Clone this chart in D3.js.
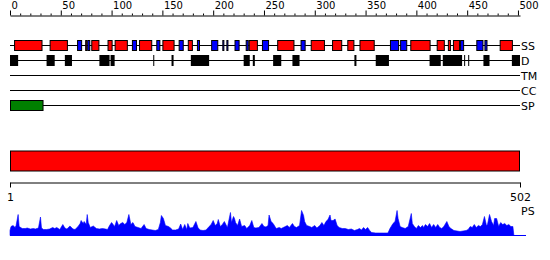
<!DOCTYPE html>
<html>
<head>
<meta charset="utf-8">
<script src="https://cdn.jsdelivr.net/npm/d3@7"></script>
<style>
body { margin: 0; background: #fff; }
text { font-family: "DejaVu Sans", sans-serif; fill: #000; }
</style>
</head>
<body>
<svg id="chart" width="550" height="260"></svg>
<script>
// sequence features (residue numbers)
var seqLength = 502;
var topTickLabels = [0, 50, 100, 150, 200, 250, 300, 350, 400, 450, 500];
var trackLabels = ["SS", "D", "TM", "CC", "SP"];

var helices = [[4,32],[39,57],[74,76],[80,88],[96,101],[103,116],[127,140],[150,162],[175,180],[235,244],
    [263,280],[296,310],[317,327],[332,339],[344,359],[394,414],[420,428],[431,434],[436,443],[482,495]];
var strands = [[66,71],[76,79],[120,125],[144,148],[166,171],[184,187],[198,205],[209,211],[213,215],[221,226],
    [232,235],[248,255],[286,291],[374,383],[384,391],[443,447],[459,466],[467,470]];
var disorder = [[0,8],[36,44],[54,61],[88,98],[99,103],[141,142],[159,161],[178,196],[230,236],[239,241],
    [259,267],[278,285],[339,341],[360,373],[413,424],[426,445],[447,448],[451,452],[466,472],[494,502]];
var tmSegments = [];
var ccSegments = [];
var signalPeptide = [[0,33]];
var domains = [[1,502]];

// PS profile
var psPos = [0,1,3,5,6,8,9,12,15,17,20,23,25,28,30,31,33,36,39,42,44,46,49,52,54,56,59,62,64,67,
    69,70,72,73,75,76,77,79,82,85,88,91,94,96,98,100,103,105,107,109,111,113,115,117,119,121,123,126,129,132,
    134,137,140,143,146,148,149,151,153,156,158,160,163,166,168,170,172,174,175,177,180,183,185,187,190,193,196,198,200,202,
    204,205,207,209,211,214,217,218,220,221,222,224,226,228,231,233,236,238,240,242,245,248,250,252,254,255,257,259,262,265,
    267,270,273,275,278,280,282,285,287,289,290,292,295,297,300,302,305,307,309,311,313,315,316,318,320,322,324,327,330,333,
    336,339,342,344,346,348,350,352,354,356,360,364,368,372,374,377,379,381,382,384,386,389,392,395,396,398,400,402,404,406,
    407,409,411,413,415,417,419,421,423,425,427,430,432,434,437,440,443,446,449,451,453,455,457,459,461,463,465,467,469,470,
    472,474,476,477,479,481,483,485,487,489,491,493,495,496];
var psVal = [20,36,40,32,40,84,36,28,28,30,26,28,26,30,74,30,24,24,26,32,28,32,24,44,30,26,38,26,24,36,
    48,60,48,56,44,84,52,32,38,28,26,28,26,24,40,52,36,60,40,48,52,44,52,84,44,52,36,32,28,44,
    28,24,22,20,24,52,80,68,40,36,30,22,22,26,46,24,44,24,48,30,32,56,32,22,20,22,36,44,60,40,
    48,64,36,44,56,32,92,52,76,68,52,40,66,36,40,28,40,60,32,30,32,48,36,34,40,82,56,48,28,32,
    28,34,40,32,48,36,32,40,100,80,56,40,36,32,40,30,40,52,40,56,64,82,60,60,66,40,32,28,28,24,
    26,20,24,28,22,32,24,32,20,12,10,10,10,10,28,48,56,100,68,36,32,28,36,88,48,36,28,40,32,40,
    32,44,36,48,32,44,32,44,32,28,36,56,36,28,20,18,16,18,20,24,36,32,44,32,40,36,44,76,40,44,
    84,56,40,68,68,36,52,44,48,40,44,36,36,0];

var svg = d3.select("#chart");

var x = d3.scaleLinear().domain([0, seqLength]).range([10, 520]);
var seqScale = d3.scaleLinear().domain([1, seqLength]).range([10, 520]);

// top ruler
var topAxis = d3.axisTop(x)
    .tickValues(d3.range(0, seqLength, 10))
    .tickSizeOuter(0)
    .tickFormat(function (d) { return topTickLabels.indexOf(d) >= 0 ? d : ""; });
var gTop = svg.append("g")
    .attr("transform", "translate(0,15.5)")
    .call(topAxis)
    .attr("font-family", null)
    .attr("font-size", 10);
gTop.selectAll(".tick line")
    .attr("y2", function (d) { return d % 50 === 0 ? -5 : -2; });
gTop.selectAll(".tick text")
    .attr("text-anchor", "start")
    .attr("x", 1)
    .attr("y", -6.5)
    .attr("dy", 0);

// feature tracks
var trackY = function (i) { return 45.5 + i * 15; };
var tracks = [
    [{ list: helices, fill: "#ff0000" }, { list: strands, fill: "#0000ff" }],
    [{ list: disorder, fill: "#000000", noStroke: true }],
    [{ list: tmSegments, fill: "#ffff00" }],
    [{ list: ccSegments, fill: "#00ffff" }],
    [{ list: signalPeptide, fill: "#008000" }]
];

trackLabels.forEach(function (label, i) {
    var y = trackY(i);
    var g = svg.append("g");
    g.append("line")
        .attr("x1", x(0)).attr("x2", x(seqLength))
        .attr("y1", y).attr("y2", y)
        .attr("stroke", "#000");
    tracks[i].forEach(function (t) {
        g.selectAll(null)
            .data(t.list)
            .enter()
            .append("rect")
            .attr("x", function (d) { return x(d[0]) + (t.noStroke ? 0 : 0.5); })
            .attr("width", function (d) { return x(d[1]) - x(d[0]) - (t.noStroke ? 0 : 1); })
            .attr("y", t.noStroke ? y - 5.5 : y - 5)
            .attr("height", t.noStroke ? 11 : 10)
            .attr("fill", t.fill)
            .attr("stroke", t.noStroke ? "none" : "#000");
    });
    g.append("text")
        .attr("x", 521)
        .attr("y", y + 4)
        .attr("font-size", 11)
        .text(label);
});

// domain bar
svg.selectAll(".dom")
    .data(domains)
    .enter()
    .append("rect")
    .attr("class", "dom")
    .attr("x", function (d) { return seqScale(d[0]) + 0.5; })
    .attr("width", function (d) { return seqScale(d[1]) - seqScale(d[0]) - 1; })
    .attr("y", 151)
    .attr("height", 20)
    .attr("fill", "#ff0000")
    .attr("stroke", "#000");

// bottom axis
var gBot = svg.append("g")
    .attr("transform", "translate(0,182.5)")
    .call(d3.axisBottom(seqScale).tickValues([1, seqLength]).tickSize(5).tickSizeOuter(0))
    .attr("font-family", null)
    .attr("font-size", 11);
gBot.selectAll(".tick text").attr("y", 11);

// PS profile
var yPs = d3.scaleLinear().domain([0, 100]).range([235.5, 210.5]);
var psData = psPos.map(function (p, i) { return [p, psVal[i]]; });

svg.append("line")
    .attr("x1", x(0)).attr("x2", 526)
    .attr("y1", 235.5).attr("y2", 235.5)
    .attr("stroke", "#0000ff");

svg.append("path")
    .datum(psData)
    .attr("fill", "#0000ff")
    .attr("stroke", "#0000ff")
    .attr("stroke-width", 0.6)
    .attr("d", d3.area()
        .x(function (d) { return x(d[0]); })
        .y0(235.5)
        .y1(function (d) { return yPs(d[1]); }));

svg.append("text")
    .attr("x", 521)
    .attr("y", 215)
    .attr("font-size", 11)
    .text("PS");
</script>
</body>
</html>
